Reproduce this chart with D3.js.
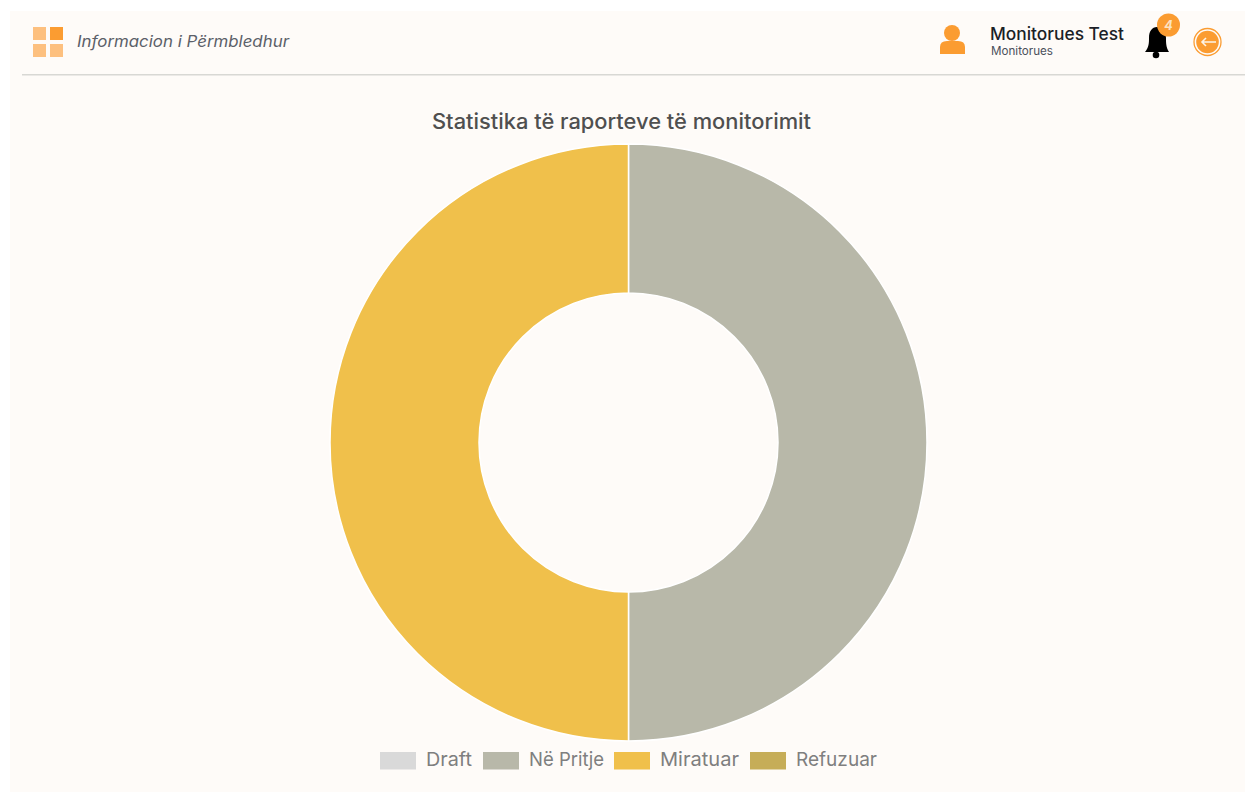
<!DOCTYPE html>
<html lang="sq">
<head>
<meta charset="utf-8">
<title>Statistika të raporteve të monitorimit</title>
<script src="https://cdnjs.cloudflare.com/ajax/libs/d3/7.8.5/d3.min.js"></script>
<style>
html,body{margin:0;padding:0;background:#fff;overflow:hidden}
svg{display:block}
text{font-family:Inter,"Open Sans",sans-serif}
</style>
</head>
<body>
<svg id="c" width="1245" height="792"></svg>
<script>
const categories = ["Draft", "Në Pritje", "Miratuar", "Refuzuar"];
const seriesValues = [0, 1, 1, 0];
const seriesColors = ["#d9d9d9", "#b8b8a9", "#f0c04b", "#c6ad58"];
const chartTitle = "Statistika të raporteve të monitorimit";
const pageTitle = "Informacion i Përmbledhur";
const userName = "Monitorues Test";
const userRole = "Monitorues";
const badgeCount = "4";

const svg = d3.select("#c");
svg.append("rect").attr("x", 10).attr("y", 11).attr("width", 1235).attr("height", 781).attr("fill", "#fefbf8");
svg.append("rect").attr("x", 22).attr("y", 74).attr("width", 1223).attr("height", 1.5).attr("fill", "#d8d8d4");

/* header, left */
const orange = "#fb9c31", pale = "#fdc07f";
[[33,27,pale],[50,27,orange],[33,44,pale],[50,44,pale]].forEach(([x,y,f]) =>
  svg.append("rect").attr("x",x).attr("y",y).attr("width",13).attr("height",13).attr("fill",f));
function fitText(sel, w){ return sel.attr("textLength", w).attr("lengthAdjust", "spacingAndGlyphs"); }
fitText(svg.append("text").attr("x",77).attr("y",47).attr("font-size",15.5).attr("font-style","italic").attr("fill","#5b6068").text(pageTitle), 212);

/* header, right */
svg.append("circle").attr("cx",952).attr("cy",33).attr("r",8).attr("fill",orange);
svg.append("path").attr("d","M940 54 V47 Q940 41 947 41 H958 Q965 41 965 47 V54 Z").attr("fill",orange);
fitText(svg.append("text").attr("x",990).attr("y",40).attr("font-size",17).attr("font-weight",500).attr("fill","#1b1f27").text(userName), 134);
fitText(svg.append("text").attr("x",991).attr("y",55).attr("font-size",11.5).attr("fill","#4a4f5a").text(userRole), 62);
svg.append("path").attr("d","M1145 52 C1149 47 1149 43 1149 38 C1149 31 1152 27 1157 27 C1162 27 1166 31 1166 38 C1166 43 1166 47 1169 52 Z").attr("fill","#000");
svg.append("circle").attr("cx",1156).attr("cy",55).attr("r",3.3).attr("fill","#000");
svg.append("circle").attr("cx",1168.5).attr("cy",25).attr("r",11.5).attr("fill",orange);
svg.append("text").attr("x",1168.5).attr("y",30).attr("text-anchor","middle").attr("font-size",12.5).attr("font-weight",700).attr("font-style","italic").attr("fill","#fde3c4").text(badgeCount);
svg.append("circle").attr("cx",1207.5).attr("cy",42).attr("r",13.5).attr("fill","none").attr("stroke",orange).attr("stroke-width",1.3);
svg.append("circle").attr("cx",1207.5).attr("cy",42).attr("r",11.3).attr("fill",orange);
svg.append("path").attr("d","M1216 42 H1202 M1206 38 L1202 42 L1206 46").attr("fill","none").attr("stroke","#fdf3e6").attr("stroke-width",1.6);

/* title */
fitText(svg.append("text").attr("x",432).attr("y",129).attr("font-size",21).attr("font-weight",500).attr("fill","#4f4f4f").text(chartTitle), 379);

/* doughnut */
const color = d3.scaleOrdinal().domain(categories).range(seriesColors);
const rows = categories.map((c,i) => ({category:c, value:seriesValues[i]}));
const pie = d3.pie().value(d => d.value).sort(null);
const arc = d3.arc().innerRadius(149.5).outerRadius(298.5);
svg.append("g").attr("transform","translate(628.5,442.5)")
  .selectAll("path").data(pie(rows)).join("path")
  .attr("d", arc).attr("fill", d => color(d.data.category))
  .attr("stroke", "#fff").attr("stroke-width", d => d.value > 0 ? 1.5 : 0);

/* legend */
const boxX = [380, 483, 614, 750], labelW = [46, 75, 79, 81];
const lg = svg.append("g").selectAll("g").data(categories).join("g").attr("transform",(d,i)=>`translate(${boxX[i]},0)`);
lg.append("rect").attr("y",752).attr("width",36).attr("height",17.5).attr("fill",d=>color(d));
lg.each(function(d,i){
  fitText(d3.select(this).append("text").attr("x",46).attr("y",766).attr("font-size",19).attr("fill","#7f7f7f").text(d), labelW[i]);
});
</script>
</body>
</html>
